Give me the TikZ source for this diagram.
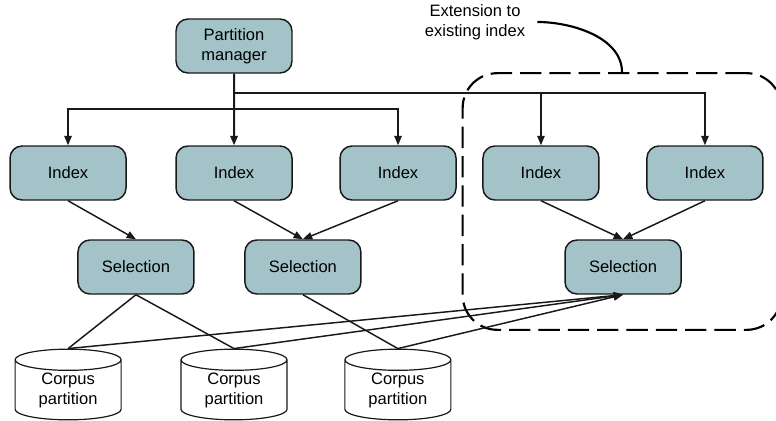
\documentclass[tikz,border=0pt]{standalone}
\usepackage{fontspec}
\setmainfont{Liberation Sans}
\usetikzlibrary{arrows.meta,shapes.geometric}
\definecolor{boxfill}{HTML}{A3C3C8}

\begin{document}
\begin{tikzpicture}
    [x=0.75pt, y=-0.75pt,
    every node/.style={font=\fontsize{12.4pt}{15pt}\selectfont},
    % Partition manager, indexes and selections
    box/.style={rectangle, draw=black!90, fill=boxfill, line width=1.1pt, align=center, rounded corners=9pt, minimum width=87pt, minimum height=40.5pt, inner sep=0pt},
    % Corpus partitions
    corpus/.style={cylinder, shape border rotate=90, aspect=0.36, draw=black!90, fill=white, line width=0.9pt, align=center, minimum width=79.5pt, minimum height=53pt, inner sep=0pt},
    % Region around the extension
    extension/.style={rectangle, draw=black, line width=1.6pt, rounded corners=26pt, dash pattern=on 16pt off 6pt, minimum width=239pt, minimum height=192.5pt},
    line/.style={draw=black!90, line width=1.1pt, -{Triangle[length=7pt,width=5.5pt]}},
    plainline/.style={draw=black!90, line width=1.1pt}]
    \useasboundingbox (0,0) rectangle (776,421);
    % Extension region and its note
    \node [extension] (extension) at (622,201.5) {};
    \node [align=center, inner xsep=9pt] (note) at (475,22) {Extension to\\existing index};
    \draw [draw=black, line width=1.6pt] (note.east) to[out=0,in=90,looseness=0.9] (extension.north);
    % Top
    \node [box] (manager) at (234,46) {Partition\\manager};
    % Indexes
    \matrix [column sep=0pt] (row0) at (386.5,173) {
        \node [box] (index1) {Index};
        &[36.4pt]\node [box] (index2) {Index};
        &[34.9pt]\node [box] (index3) {Index};
        &[19.1pt]\node [box] (index4) {Index};
        &[34.9pt]\node [box] (index5) {Index}; \\
    };
    % Selections
    \matrix [column sep=0pt] (row1) at (379.5,267) {
        \node [box] (selection1) {Selection};
        &[37.1pt]\node [box] (selection2) {Selection};
        &[152pt]\node [box] (selection3) {Selection}; \\
    };
    % Corpus partitions
    \matrix [column sep=0pt] (row2) at (233,384.5) {
        \node [corpus] (corpus1) {Corpus\\partition};
        &[44pt]\node [corpus] (corpus2) {Corpus\\partition};
        &[42.5pt]\node [corpus] (corpus3) {Corpus\\partition}; \\
    };
    % Manager to indexes
    \coordinate (busRight) at (234,93);
    \coordinate (busLeft) at (234,109);
    \draw [line, line width=1.5pt] (manager) -- (index2);
    \draw [line] (busLeft) -| (index1);
    \draw [line] (busLeft) -| (index3);
    \draw [line] (busRight) -| (index4);
    \draw [line] (busRight) -| (index5);
    % Indexes to selections
    \draw [line] (index1.south) -- (selection1.north);
    \draw [line] (index2.south) -- (selection2.north);
    \draw [line] (index3.south) -- (selection2.north);
    \draw [line] (index4.south) -- (selection3.north);
    \draw [line] (index5.south) -- (selection3.north);
    % Selections to corpus partitions
    \draw [plainline] (selection1.south) -- (corpus1.top);
    \draw [plainline] (selection1.south) -- (corpus2.top);
    \draw [plainline] (selection2.south) -- (corpus3.top);
    \draw [line] (corpus1.top) -- (selection3.south);
    \draw [line] (corpus2.top) -- (selection3.south);
    \draw [line] (corpus3.top) -- (selection3.south);
\end{tikzpicture}
\end{document}
